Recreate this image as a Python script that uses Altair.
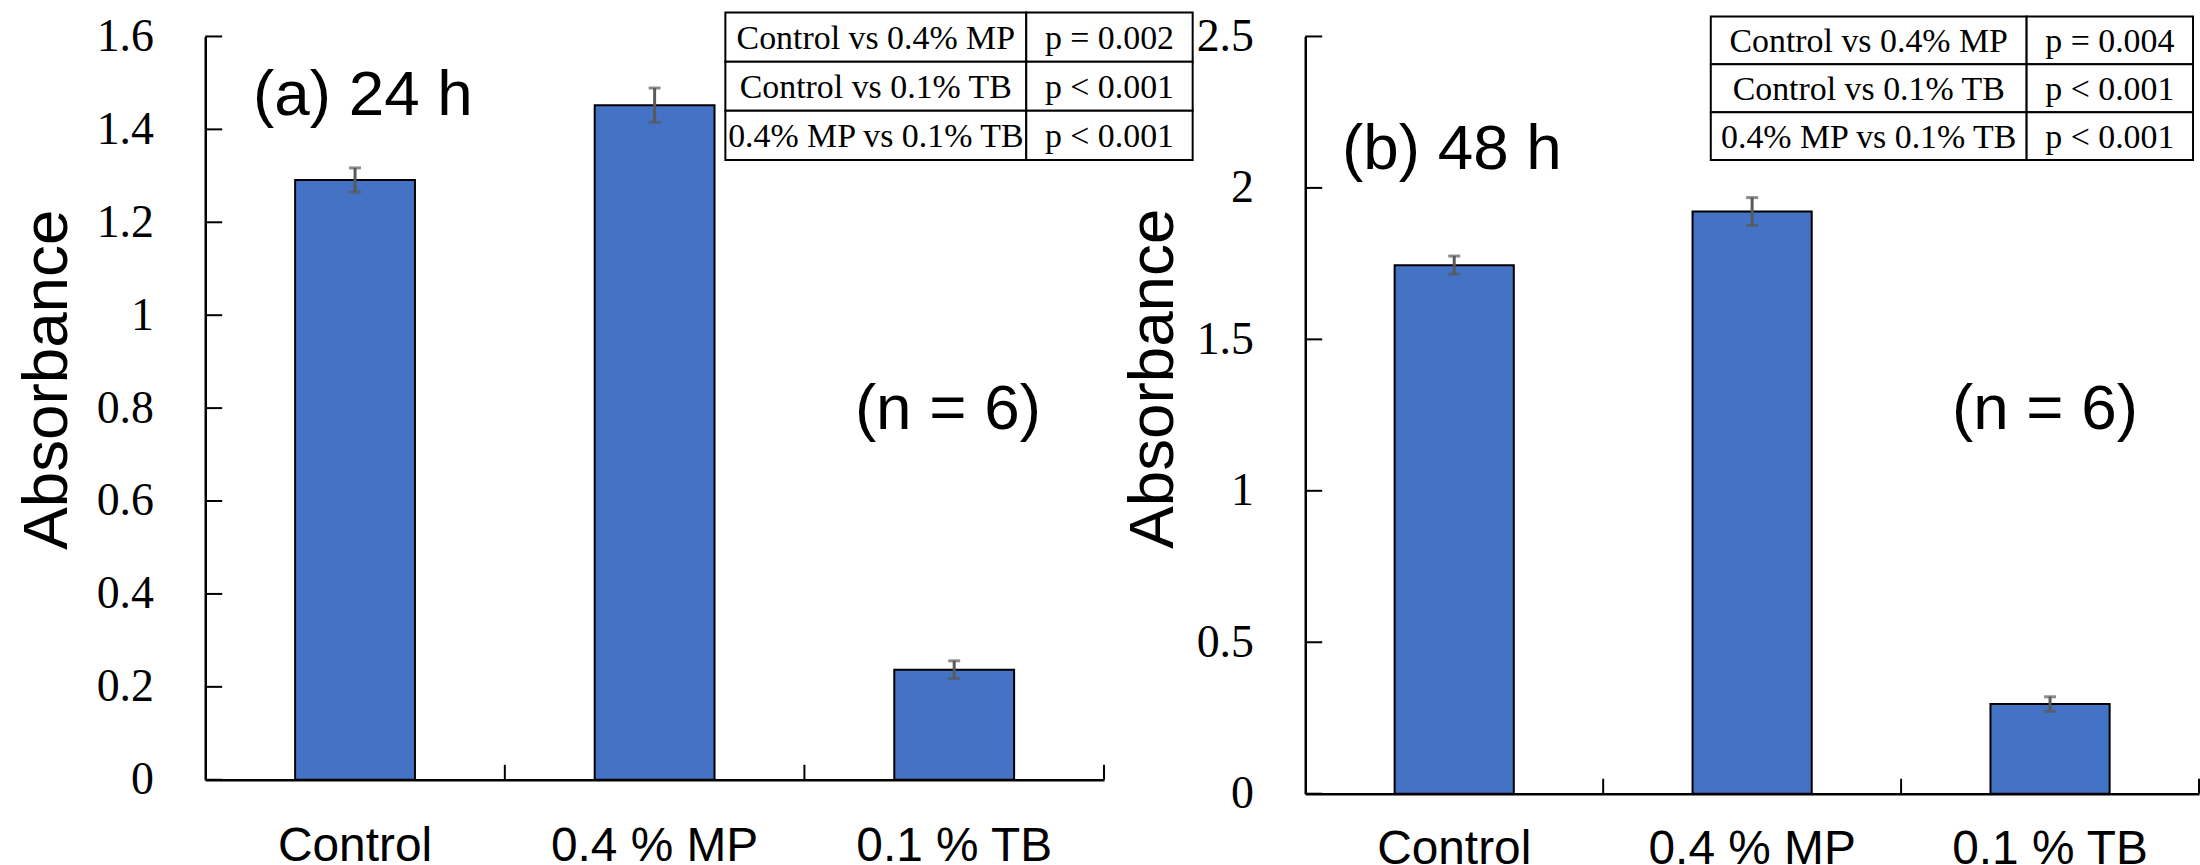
import altair as alt
import pandas as pd

# Treatment groups and measured absorbance (mean and error) at each time point
groups = ["Control", "0.4 % MP", "0.1 % TB"]
mean_24h = [1.291, 1.452, 0.237]
err_24h = [0.026, 0.037, 0.019]
mean_48h = [1.745, 1.922, 0.296]
err_48h = [0.030, 0.046, 0.024]

# Pairwise comparisons shown in the inset tables
comparisons = ["Control vs 0.4% MP", "Control vs 0.1% TB", "0.4% MP vs 0.1% TB"]
p_24h = ["p = 0.002", "p < 0.001", "p < 0.001"]
p_48h = ["p = 0.004", "p < 0.001", "p < 0.001"]

# Y-axis tick values
ticks_24h = [0, 0.2, 0.4, 0.6, 0.8, 1, 1.2, 1.4, 1.6]
ticks_48h = [0, 0.5, 1, 1.5, 2, 2.5]

BAR_BLUE = "#4472C4"
ERR_GREY = "#595959"
SANS = "Liberation Sans"
SERIF = "Liberation Serif"


def panel(label, means, errs, pvals, ticks, ymax, width, height,
          label_pos, n_pos, table_x, table_y, title_x, title_y, xlab_pad):
    df = pd.DataFrame({"group": groups, "mean": means, "err": errs})
    df["lo"] = df["mean"] - df["err"]
    df["hi"] = df["mean"] + df["err"]

    yscale = alt.Scale(domain=[0, ymax], nice=False, zero=True)
    xenc = alt.X("group:N", sort=groups,
                 scale=alt.Scale(paddingInner=0, paddingOuter=0),
                 axis=alt.Axis(title=None, labelAngle=0, labelFont=SANS,
                               labelFontSize=48, labelColor="black",
                               labelLimit=0, labelPadding=xlab_pad,
                               labelBaseline="alphabetic",
                               ticks=False, tickSize=0,
                               domainColor="black", domainWidth=2.5))

    bars = alt.Chart(df).mark_bar(
        fill=BAR_BLUE, stroke="black", strokeWidth=2,
        width=alt.RelativeBandSize(0.4)
    ).encode(
        x=xenc,
        y=alt.Y("mean:Q", scale=yscale,
                axis=alt.Axis(values=ticks, format="~g", grid=False,
                              ticks=False, tickSize=0, labelPadding=52,
                              labelFont=SERIF, labelFontSize=46,
                              labelColor="black", domainColor="black",
                              domainWidth=2.5, title="Absorbance",
                              titleFont=SANS, titleFontSize=64,
                              titleFontWeight="normal", titleColor="black",
                              titleAngle=270, titleBaseline="alphabetic",
                              titleAlign="center", titleX=title_x,
                              titleY=title_y)),
    )

    err_line = alt.Chart(df).mark_rule(color=ERR_GREY, strokeWidth=3).encode(
        x=alt.X("group:N", sort=groups),
        y=alt.Y("lo:Q", scale=yscale, axis=None),
        y2="hi:Q",
    )
    cap_lo = alt.Chart(df).mark_tick(color=ERR_GREY, thickness=3, size=12).encode(
        x=alt.X("group:N", sort=groups),
        y=alt.Y("lo:Q", scale=yscale, axis=None),
    )
    cap_hi = alt.Chart(df).mark_tick(color=ERR_GREY, thickness=3, size=12).encode(
        x=alt.X("group:N", sort=groups),
        y=alt.Y("hi:Q", scale=yscale, axis=None),
    )

    # Inward-facing category separators on the x axis
    step = width / len(groups)
    x_ticks = alt.Chart(df).mark_rule(
        color="black", strokeWidth=2, xOffset=step / 2
    ).encode(
        x=alt.X("group:N", sort=groups),
        y=alt.value(height),
        y2=alt.value(height - 15),
    )

    # Inward-facing value ticks on the y axis
    y_ticks = alt.Chart(pd.DataFrame({"v": ticks})).mark_rule(
        color="black", strokeWidth=2
    ).encode(
        y=alt.Y("v:Q", scale=yscale, axis=None),
        x=alt.value(0),
        x2=alt.value(17),
    )

    # Inset table of p-values
    tdf = pd.DataFrame({"row": [0, 1, 2], "comp": comparisons, "p": pvals})
    row_scale = alt.Scale(range=list(table_y), paddingInner=0, paddingOuter=0)
    yrow = alt.Y("row:O", scale=row_scale, axis=None)
    x0, xm, x1 = table_x
    cell_a = alt.Chart(tdf).mark_rect(
        fill="white", stroke="black", strokeWidth=2
    ).encode(y=yrow, x=alt.value(x0), x2=alt.value(xm))
    cell_b = alt.Chart(tdf).mark_rect(
        fill="white", stroke="black", strokeWidth=2
    ).encode(y=yrow, x=alt.value(xm), x2=alt.value(x1))
    text_a = alt.Chart(tdf).mark_text(
        font=SERIF, fontSize=34, color="black", align="center",
        baseline="middle", dy=2
    ).encode(y=yrow, x=alt.value((x0 + xm) / 2), text="comp:N")
    text_b = alt.Chart(tdf).mark_text(
        font=SERIF, fontSize=34, color="black", align="center",
        baseline="middle", dy=2
    ).encode(y=yrow, x=alt.value((xm + x1) / 2), text="p:N")

    note = pd.DataFrame({"t": [label], "n": ["(n = 6)"]})
    label_text = alt.Chart(note).mark_text(
        font=SANS, fontSize=64, color="black", align="left",
        baseline="alphabetic"
    ).encode(x=alt.value(label_pos[0]), y=alt.value(label_pos[1]), text="t:N")
    n_text = alt.Chart(note).mark_text(
        font=SANS, fontSize=64, color="black", align="left",
        baseline="alphabetic"
    ).encode(x=alt.value(n_pos[0]), y=alt.value(n_pos[1]), text="n:N")

    return alt.layer(
        bars, err_line, cap_lo, cap_hi, x_ticks, y_ticks,
        cell_a, cell_b, text_a, text_b, label_text, n_text,
    ).resolve_scale(y="independent").properties(width=width, height=height)


panel_24 = panel("(a) 24 h", mean_24h, err_24h, p_24h, ticks_24h, 1.6,
                 902, 746, (48, 79), (652, 394),
                 (522, 824, 991), (-24, 124), -139, 344, 81)
panel_48 = panel("(b) 48 h", mean_48h, err_48h, p_48h, ticks_48h, 2.5,
                 897, 760, (37, 133), (649, 394),
                 (407, 724, 891), (-20, 124), -133, 343, 70)

chart = alt.hconcat(panel_24, panel_48, spacing=202, bounds="flush").configure_view(
    stroke=None
).properties(
    padding={"left": 16, "top": 10, "right": 0, "bottom": 0},
    background="white",
)

chart.save("out.html", embed_options={"renderer": "svg", "actions": False})
